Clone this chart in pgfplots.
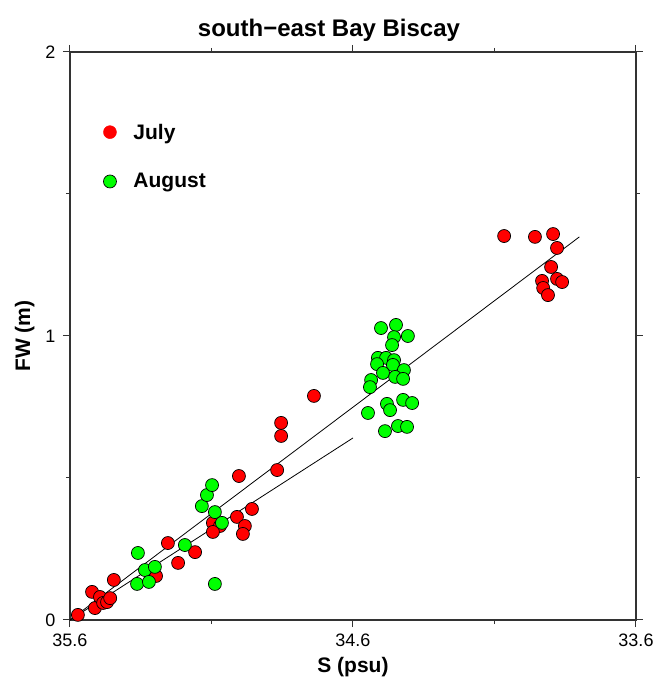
\documentclass[border=0pt]{standalone}
\usepackage{fontspec}
\setmainfont{Liberation Sans}
\usepackage{pgfplots}
\pgfplotsset{compat=1.18}
\begin{document}
\begin{tikzpicture}
\useasboundingbox (-70pt,-57pt) rectangle (588pt,620pt);
\begin{axis}[
  at={(0,0)}, anchor=south west,
  scale only axis, width=566pt, height=568pt,
  x dir=reverse,
  xmin=33.6, xmax=35.6, ymin=0, ymax=2,
  xtick={33.6,34.6,35.6}, xticklabels={33.6,34.6,35.6},
  minor xtick={34.1,35.1},
  ytick={0,1,2}, yticklabels={0,1,2},
  minor ytick={0.5,1.5},
  tick align=outside,
  major tick length=7pt, minor tick length=4pt,
  axis line style={line width=1.2pt, black!80},
  every tick/.style={line width=1pt, black!80},
  /pgf/number format/assume math mode=true,
  tick label style={font=\fontsize{18}{20}\selectfont},
  xticklabel style={yshift=-3pt},
  yticklabel style={xshift=-4pt},
  xlabel={S (psu)},
  ylabel={FW (m)},
  label style={font=\bfseries\fontsize{21}{24}\selectfont},
  xlabel style={yshift=-4pt},
  ylabel style={yshift=4pt},
  clip=false,
  legend style={draw=none, fill=none, at={(axis description cs:0.0535,0.881)}, anchor=north west,
    row sep=29pt, font=\bfseries\fontsize{21}{24}\selectfont},
  legend cell align=left,
]
\addplot[black, line width=0.8pt, forget plot] coordinates {(35.6,0) (33.80,1.349)};
\addplot[black, line width=0.8pt, forget plot] coordinates {(35.6,0) (34.60,0.641)};
\addplot[only marks, mark=*, mark size=6.5pt, mark options={fill=red, draw=black, line width=0.7pt}, forget plot] coordinates {
(35.572,0.018) (35.522,0.099) (35.512,0.042) (35.494,0.081) (35.483,0.060)
(35.469,0.063) (35.458,0.077) (35.445,0.141) (35.296,0.155) (35.254,0.271)
(35.218,0.201) (35.158,0.239) (35.095,0.342) (35.070,0.331) (35.095,0.310)
(35.010,0.363) (34.957,0.391) (34.982,0.331) (34.989,0.303) (35.003,0.507)
(34.868,0.528) (34.854,0.694) (34.854,0.648) (34.738,0.789) (34.066,1.352)
(33.957,1.349) (33.893,1.359) (33.879,1.310) (33.900,1.243) (33.932,1.194)
(33.928,1.169) (33.911,1.144) (33.879,1.201) (33.861,1.190)
};
\addplot[only marks, mark=*, mark size=6.5pt, mark options={fill=green, draw=black, line width=0.7pt}, forget plot] coordinates {
(35.360,0.236) (35.335,0.176) (35.300,0.187) (35.363,0.127) (35.321,0.134)
(35.194,0.264) (35.134,0.401) (35.116,0.440) (35.098,0.475) (35.088,0.380)
(35.063,0.342) (35.088,0.127)
(34.501,1.028) (34.448,1.039) (34.455,0.996) (34.406,1.000) (34.462,0.968)
(34.512,0.923) (34.483,0.923) (34.455,0.915) (34.515,0.901) (34.459,0.898)
(34.420,0.880) (34.494,0.870) (34.451,0.856) (34.423,0.849) (34.536,0.845)
(34.540,0.820) (34.480,0.761) (34.469,0.739) (34.423,0.775) (34.391,0.764)
(34.547,0.729) (34.441,0.683) (34.409,0.680) (34.487,0.665)
};
\addlegendimage{only marks, mark=*, mark size=6.5pt, mark options={fill=red, draw=red}}
\addlegendentry{\hspace{15pt}July}
\addlegendimage{only marks, mark=*, mark size=6.5pt, mark options={fill=green, draw=black, line width=0.7pt}}
\addlegendentry{\hspace{15pt}August}
\end{axis}
\node[anchor=base, font=\bfseries\fontsize{24}{28}\selectfont] at (259pt,583.5pt) {south−east Bay Biscay};
\end{tikzpicture}
\end{document}
